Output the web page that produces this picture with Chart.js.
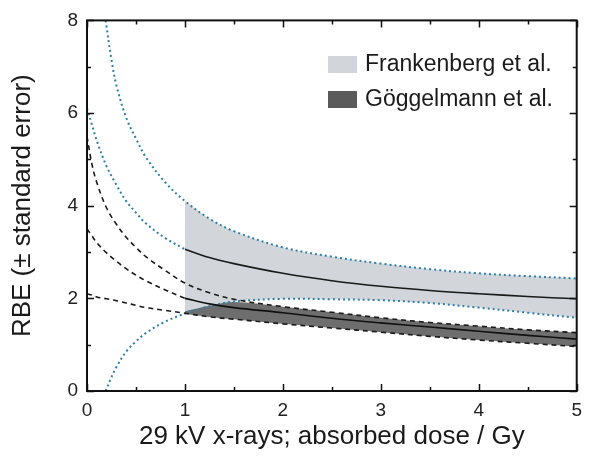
<!DOCTYPE html>
<html><head><meta charset="utf-8">
<script src="https://cdn.jsdelivr.net/npm/chart.js@4"></script>
<style>html,body{margin:0;padding:0;background:#fff}#wrap{width:590px;height:459px;position:relative}</style>
</head><body><div id="wrap"><canvas id="c"></canvas></div>
<script>
const legendLabels = ['Frankenberg et al.', 'Göggelmann et al.'];
const xTicks = [0, 1, 2, 3, 4, 5];
const yTicks = [0, 2, 4, 6, 8];
const xTitle = '29 kV x-rays; absorbed dose / Gy';
const yTitle = 'RBE (± standard error)';

// Frankenberg et al.
const fDoseBounds = [0.19, 0.25, 0.3, 0.4, 0.5, 0.6, 0.8, 1, 1.25, 1.5, 2, 2.5, 3, 3.5, 4, 4.5, 5];
const fUpper = [8.0, 7.15, 6.6, 5.9, 5.45, 5.05, 4.5, 4.1, 3.72, 3.45, 3.1, 2.9, 2.75, 2.63, 2.54, 2.48, 2.43];
const fLower = [0, 0.3, 0.52, 0.85, 1.07, 1.25, 1.5, 1.67, 1.83, 1.93, 1.99, 1.98, 1.96, 1.9, 1.8, 1.69, 1.58];
const fDoseExtrap = [0, 0.05, 0.1, 0.2, 0.3, 0.4, 0.5, 0.6, 0.8, 1];
const fCenterExtrap = [6.1, 5.75, 5.4, 4.85, 4.45, 4.1, 3.85, 3.62, 3.3, 3.06];
const doseFit = [1, 1.25, 1.5, 2, 2.5, 3, 3.5, 4, 4.5, 5];
const fCenter = [3.06, 2.88, 2.75, 2.54, 2.38, 2.26, 2.17, 2.1, 2.04, 1.99];

// Göggelmann et al.
const gDose = [0, 0.05, 0.1, 0.2, 0.3, 0.4, 0.5, 0.6, 0.8, 1, 1.25, 1.5, 2, 2.5, 3, 3.5, 4, 4.5, 5];
const gUpper = [5.5, 4.9, 4.5, 3.95, 3.6, 3.32, 3.1, 2.9, 2.6, 2.33, 2.12, 1.98, 1.82, 1.7, 1.58, 1.48, 1.4, 1.32, 1.26];
const gCenter = [3.5, 3.35, 3.2, 2.98, 2.8, 2.64, 2.5, 2.38, 2.18, 2.0, 1.88, 1.8, 1.69, 1.57, 1.47, 1.38, 1.29, 1.2, 1.12];
const gLower = [2.1, 2.07, 2.03, 1.99, 1.95, 1.9, 1.85, 1.8, 1.74, 1.68, 1.6, 1.55, 1.45, 1.36, 1.27, 1.18, 1.1, 1.03, 0.96];
const gBandTop = [1.72, 1.84, 1.92, 1.82, 1.7, 1.58, 1.48, 1.4, 1.32, 1.26];
const gBandBottom = [1.66, 1.6, 1.55, 1.45, 1.36, 1.27, 1.18, 1.1, 1.03, 0.96];

function pts(xs, ys, lo = -Infinity, hi = Infinity) {
  const out = [];
  xs.forEach((x, i) => { if (x >= lo && x <= hi) out.push({ x: x, y: ys[i] }); });
  return out;
}

const FONT = '"Liberation Sans", Arial, Helvetica, sans-serif';
const F_BAND = '#d2d6da';
const G_BAND = '#6e6e6e';
const BLUE = '#2f7fa8';
const DARK = '#1a1a1a';

const noPt = { pointRadius: 0, pointHoverRadius: 0, tension: 0.35 };

const datasets = [
  Object.assign({ data: pts(fDoseBounds, fUpper, 1, 5), borderWidth: 0, borderColor: 'transparent', backgroundColor: F_BAND, fill: '+1', order: 20 }, noPt),
  Object.assign({ data: pts(fDoseBounds, fLower, 1, 5), borderWidth: 0, borderColor: 'transparent', fill: false, order: 20 }, noPt),
  Object.assign({ data: pts(doseFit, gBandTop), borderWidth: 0, borderColor: 'transparent', backgroundColor: G_BAND, fill: '+1', order: 19 }, noPt),
  Object.assign({ data: pts(doseFit, gBandBottom), borderWidth: 0, borderColor: 'transparent', fill: false, order: 19 }, noPt),
  Object.assign({ data: pts(fDoseBounds, fUpper), borderColor: BLUE, borderWidth: 2, borderDash: [2, 3], fill: false, order: 1 }, noPt),
  Object.assign({ data: pts(fDoseBounds, fLower), borderColor: BLUE, borderWidth: 2, borderDash: [2, 3], fill: false, order: 1 }, noPt),
  Object.assign({ data: pts(fDoseExtrap, fCenterExtrap), borderColor: BLUE, borderWidth: 2, borderDash: [2, 3], fill: false, order: 1 }, noPt),
  Object.assign({ data: pts(doseFit, fCenter), borderColor: DARK, borderWidth: 1.6, fill: false, order: 1 }, noPt),
  Object.assign({ data: pts(gDose, gUpper), borderColor: DARK, borderWidth: 1.6, borderDash: [5, 4], fill: false, order: 0 }, noPt),
  Object.assign({ data: pts(gDose, gLower), borderColor: DARK, borderWidth: 1.6, borderDash: [5, 4], fill: false, order: 0 }, noPt),
  Object.assign({ data: pts(gDose, gCenter, 0, 1), borderColor: DARK, borderWidth: 1.6, borderDash: [5, 4], fill: false, order: 0 }, noPt),
  Object.assign({ data: pts(gDose, gCenter, 1, 5), borderColor: '#111', borderWidth: 1.6, fill: false, order: 0 }, noPt)
];

const framePlugin = {
  id: 'frame',
  afterDraw(chart) {
    const ctx = chart.ctx;
    const { left, right, top, bottom } = chart.chartArea;
    const xs = chart.scales.x, ys = chart.scales.y;
    ctx.save();
    ctx.strokeStyle = '#111';
    ctx.lineWidth = 2;
    ctx.strokeRect(left, top, right - left, bottom - top);
    ctx.lineWidth = 1.5;
    ctx.beginPath();
    for (let v = 0; v <= 5.001; v += 0.5) {
      const p = Math.round(xs.getPixelForValue(v)) + 0.5;
      const len = Number.isInteger(v) ? 7 : 4;
      ctx.moveTo(p, bottom); ctx.lineTo(p, bottom - len);
      ctx.moveTo(p, top); ctx.lineTo(p, top + len);
    }
    for (let v = 0; v <= 8.001; v += 1) {
      const p = Math.round(ys.getPixelForValue(v)) + 0.5;
      const len = v % 2 === 0 ? 7 : 4;
      ctx.moveTo(left, p); ctx.lineTo(left + len, p);
      ctx.moveTo(right, p); ctx.lineTo(right - len, p);
    }
    ctx.stroke();
    const sw = [F_BAND, '#5a5a5a'];
    const ly = [64, 99];
    ctx.font = '23px ' + FONT;
    ctx.textBaseline = 'middle';
    legendLabels.forEach((t, i) => {
      ctx.fillStyle = sw[i];
      ctx.fillRect(328, ly[i] - 8, 29, 17);
      ctx.fillStyle = '#1a1a1a';
      ctx.fillText(t, 365, ly[i] + 1);
    });
    ctx.restore();
  }
};

new Chart(document.getElementById('c'), {
  type: 'line',
  data: { datasets },
  options: {
    responsive: true,
    maintainAspectRatio: false,
    animation: false,
    layout: { padding: { top: 15, right: 3, left: 0, bottom: 0 } },
    plugins: { legend: { display: false }, tooltip: { enabled: false }, filler: { propagate: false } },
    scales: {
      x: {
        type: 'linear', min: 0, max: 5,
        afterBuildTicks: s => { s.ticks = xTicks.map(v => ({ value: v })); },
        ticks: { font: { family: FONT, size: 19 }, color: '#222', padding: 8 },
        grid: { display: false, drawTicks: false },
        border: { display: false },
        title: { display: true, text: xTitle, font: { family: FONT, size: 26 }, color: '#1a1a1a', padding: { top: 0, bottom: 7 } },
        afterFit: s => { s.height = 68; }
      },
      y: {
        type: 'linear', min: 0, max: 8,
        afterBuildTicks: s => { s.ticks = yTicks.map(v => ({ value: v })); },
        ticks: { font: { family: FONT, size: 19 }, color: '#222', padding: 9 },
        grid: { display: false, drawTicks: false },
        border: { display: false },
        title: { display: true, text: yTitle, font: { family: FONT, size: 26 }, color: '#1a1a1a', padding: { top: 7, bottom: 0 } },
        afterFit: s => { s.width = 87; }
      }
    }
  },
  plugins: [framePlugin]
});
</script>
</body></html>
